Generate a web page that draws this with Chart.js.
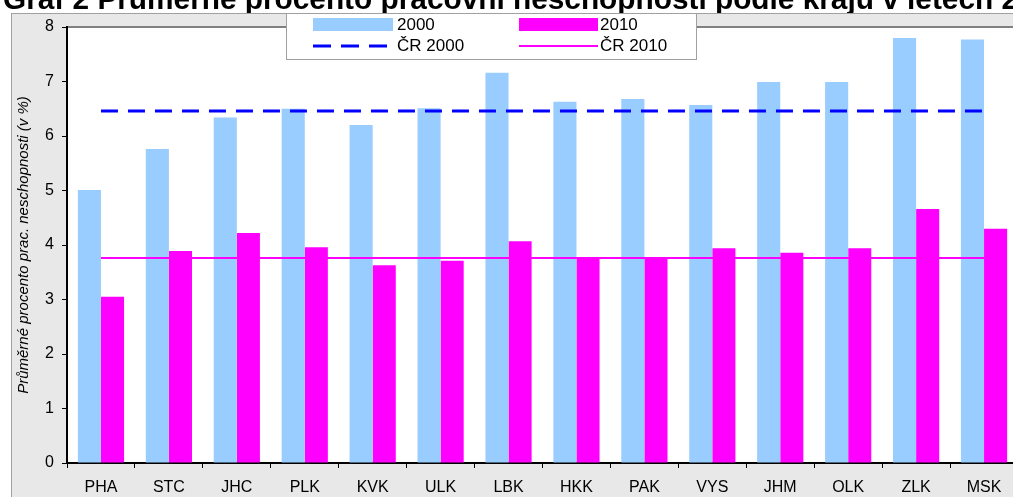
<!DOCTYPE html>
<html><head><meta charset="utf-8">
<script src="https://cdn.jsdelivr.net/npm/chart.js@4.4.1/dist/chart.umd.min.js"></script>
<style>
html,body{margin:0;padding:0;background:#fff;overflow:hidden;}
#wrap{position:relative;width:1013px;height:497px;overflow:hidden;}
canvas{position:absolute;left:0;top:0;}
</style></head><body>
<div id="wrap"><canvas id="c" width="1040" height="497" style="width:1040px;height:497px"></canvas></div>
<script>
const categories = ['PHA','STC','JHC','PLK','KVK','ULK','LBK','HKK','PAK','VYS','JHM','OLK','ZLK','MSK'];
const values2000 = [5.01, 5.76, 6.34, 6.50, 6.20, 6.51, 7.16, 6.63, 6.68, 6.57, 6.99, 6.99, 7.80, 7.77];
const values2010 = [3.05, 3.89, 4.22, 3.96, 3.63, 3.71, 4.07, 3.78, 3.78, 3.94, 3.86, 3.94, 4.66, 4.30];
const cr2000 = [6.46, 6.46, 6.46, 6.46, 6.46, 6.46, 6.46, 6.46, 6.46, 6.46, 6.46, 6.46, 6.46, 6.46];
const cr2010 = [3.76, 3.76, 3.76, 3.76, 3.76, 3.76, 3.76, 3.76, 3.76, 3.76, 3.76, 3.76, 3.76, 3.76];
const yTicks = [0, 1, 2, 3, 4, 5, 6, 7, 8];
const seriesNames = ['2000', '2010', 'ČR 2000', 'ČR 2010'];
const titleText = 'Graf 2 Průměrné procento pracovní neschopnosti podle krajů v letech 2000 a 2010';
const yTitle = 'Průměrné procento prac. neschopnosti (v %)';

const FONT = "'Liberation Sans', Arial, sans-serif";
const C2000 = '#99CCFF', C2010 = '#FF00FF', CLINE2000 = '#0000FF', CLINE2010 = '#FF00FF';

const framePlugin = {
  id: 'frame',
  beforeDraw(chart) {
    const ctx = chart.ctx, a = chart.chartArea;
    ctx.save();
    ctx.fillStyle = '#ffffff';
    ctx.fillRect(0, 0, chart.width, chart.height);
    // title (cropped at top)
    ctx.fillStyle = '#000';
    ctx.font = 'bold 29.8px ' + FONT;
    ctx.textBaseline = 'alphabetic';
    ctx.textAlign = 'left';
    ctx.fillText(titleText, 3, 9);
    // outer frame
    ctx.fillStyle = '#e8e8e8';
    ctx.fillRect(11, 13, chart.width, chart.height);
    ctx.strokeStyle = '#a0a0a0';
    ctx.lineWidth = 1;
    ctx.strokeRect(11.5, 13.5, chart.width, chart.height);
    // plot area
    ctx.fillStyle = '#ffffff';
    ctx.fillRect(a.left, a.top, a.right - a.left, a.bottom - a.top);
    ctx.strokeStyle = '#808080';
    ctx.lineWidth = 2;
    ctx.beginPath();
    ctx.moveTo(a.left, a.top);
    ctx.lineTo(a.right, a.top);
    ctx.lineTo(a.right, a.bottom);
    ctx.stroke();
    ctx.restore();
  }
};

const legendPlugin = {
  id: 'boxLegend',
  afterDraw(chart) {
    const ctx = chart.ctx;
    ctx.save();
    ctx.fillStyle = '#fff';
    ctx.fillRect(286, 13, 410, 46);
    ctx.strokeStyle = '#a0a0a0';
    ctx.lineWidth = 1;
    ctx.strokeRect(286.5, 13.5, 410, 46);
    // swatches
    ctx.fillStyle = C2000; ctx.fillRect(313, 18, 80, 13);
    ctx.fillStyle = C2010; ctx.fillRect(519, 18, 79, 13);
    ctx.strokeStyle = CLINE2000; ctx.lineWidth = 3; ctx.setLineDash([18, 10]);
    ctx.beginPath(); ctx.moveTo(313, 46); ctx.lineTo(393, 46); ctx.stroke();
    ctx.setLineDash([]);
    ctx.strokeStyle = CLINE2010; ctx.lineWidth = 2;
    ctx.beginPath(); ctx.moveTo(519, 46); ctx.lineTo(598, 46); ctx.stroke();
    ctx.fillStyle = '#000';
    ctx.font = '17px ' + FONT;
    ctx.textBaseline = 'middle';
    ctx.textAlign = 'left';
    ctx.fillText(seriesNames[0], 397, 25);
    ctx.fillText(seriesNames[1], 600, 25);
    ctx.fillText(seriesNames[2], 397, 46);
    ctx.fillText(seriesNames[3], 600, 46);
    ctx.restore();
  }
};

new Chart(document.getElementById('c'), {
  type: 'bar',
  data: {
    labels: categories,
    datasets: [
      { label: seriesNames[0], data: values2000, backgroundColor: C2000, borderWidth: 0, order: 2, barPercentage: 1, categoryPercentage: 0.68 },
      { label: seriesNames[1], data: values2010, backgroundColor: C2010, borderWidth: 0, order: 2, barPercentage: 1, categoryPercentage: 0.68 },
      { type: 'line', label: seriesNames[2], data: cr2000, borderColor: CLINE2000, borderWidth: 3, borderDash: [17, 10], pointRadius: 0, fill: false, order: 1 },
      { type: 'line', label: seriesNames[3], data: cr2010, borderColor: CLINE2010, borderWidth: 2, pointRadius: 0, fill: false, order: 1 }
    ]
  },
  options: {
    responsive: false,
    devicePixelRatio: 1,
    animation: false,
    layout: { padding: { left: 0, top: 27, right: 22, bottom: 0 } },
    plugins: { legend: { display: false }, title: { display: false }, tooltip: { enabled: false } },
    scales: {
      x: {
        z: 1,
        offset: true,
        grid: { offset: true, drawOnChartArea: false, drawTicks: true, tickLength: 5, color: '#000', lineWidth: 1 },
        border: { display: true, color: '#000', width: 2 },
        ticks: { color: '#000', font: { family: FONT, size: 16 }, padding: 10, maxRotation: 0, autoSkip: false },
        afterFit(s) { s.height = 34; }
      },
      y: {
        z: 1,
        min: yTicks[0], max: yTicks[yTicks.length - 1],
        afterBuildTicks(s) { s.ticks = yTicks.map(v => ({ value: v })); },
        grid: { drawOnChartArea: false, drawTicks: true, tickLength: 5, color: '#000', lineWidth: 1 },
        border: { display: true, color: '#000', width: 2 },
        ticks: { color: '#000', font: { family: FONT, size: 16 }, padding: 8 },
        title: { display: true, text: yTitle, color: '#000', font: { family: FONT, size: 15, style: 'italic' }, padding: { top: 15, bottom: 0 } },
        afterFit(s) { s.width = 67; }
      }
    }
  },
  plugins: [framePlugin, legendPlugin]
});
</script>
</body></html>
